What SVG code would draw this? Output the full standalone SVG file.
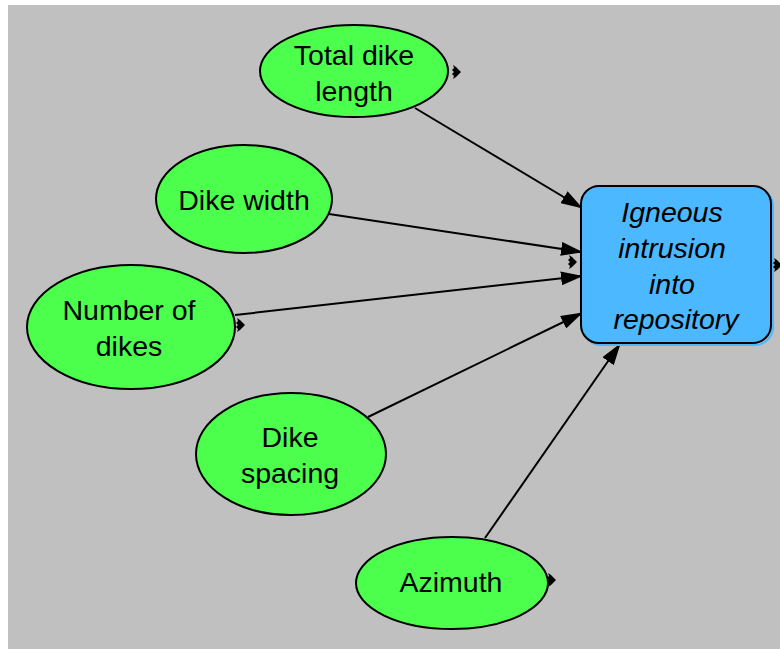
<svg xmlns="http://www.w3.org/2000/svg" width="780" height="649" viewBox="0 0 780 649">
  <style>
    .var ellipse { fill: #4cff4c; stroke: #000; stroke-width: 2; }
    .lbl { font-family: "Liberation Sans", Arial, sans-serif; font-size: 28.5px; fill: #000; text-anchor: middle; }
    .lbl-it { font-style: italic; }
    .edge { stroke: #000; stroke-width: 2; fill: none; marker-end: url(#arrow); }
    .tick { fill: #000; }
  </style>
  <defs>
    <marker id="arrow" viewBox="0 0 22 14" refX="21" refY="7" markerWidth="22" markerHeight="14" markerUnits="userSpaceOnUse" orient="auto">
      <path d="M0,0 L22,7 L0,14 Z" fill="#000"/>
    </marker>
    <!-- small influence glyph: right-pointing wedge with ragged back -->
    <path id="glyph" d="M1,-7 L4,-5 L9,0 L4,5 L1,7 L2,4 L0,2 L2,0 L0,-2 L2,-4 Z"/>
  </defs>

  <!-- canvas -->
  <rect x="0" y="0" width="780" height="649" fill="#ffffff"/>
  <rect x="8" y="5" width="772" height="644" fill="#c0c0c0"/>

  <!-- connectors -->
  <g id="connectors">
    <line class="edge" x1="415" y1="108" x2="582" y2="208"/>
    <line class="edge" x1="329" y1="214" x2="582" y2="252"/>
    <line class="edge" x1="235" y1="315" x2="582" y2="276"/>
    <line class="edge" x1="368" y1="417" x2="582" y2="313"/>
    <line class="edge" x1="485" y1="538" x2="620" y2="344"/>
  </g>

  <!-- input variables -->
  <g id="total-dike-length" class="var">
    <ellipse cx="354" cy="71" rx="94" ry="46"/>
    <text class="lbl" x="354" y="65">Total dike</text>
    <text class="lbl" x="354" y="101">length</text>
    <use href="#glyph" class="tick" x="452" y="72"/>
  </g>

  <g id="dike-width" class="var">
    <ellipse cx="244" cy="199" rx="88" ry="54"/>
    <text class="lbl" x="244" y="210">Dike width</text>
  </g>

  <g id="number-of-dikes" class="var">
    <ellipse cx="131" cy="327" rx="104" ry="62"/>
    <text class="lbl" x="129" y="320">Number of</text>
    <text class="lbl" x="129" y="356">dikes</text>
    <use href="#glyph" class="tick" x="236" y="325"/>
  </g>

  <g id="dike-spacing" class="var">
    <ellipse cx="291" cy="454" rx="95" ry="61"/>
    <text class="lbl" x="290" y="447">Dike</text>
    <text class="lbl" x="290" y="483">spacing</text>
  </g>

  <g id="azimuth" class="var">
    <ellipse cx="452" cy="583" rx="96" ry="46"/>
    <text class="lbl" x="451" y="592">Azimuth</text>
    <use href="#glyph" class="tick" x="547" y="580"/>
  </g>

  <!-- result -->
  <g id="igneous-intrusion">
    <rect x="583" y="188" width="190" height="157" rx="18" ry="18" fill="none" stroke="#4cb8ff" stroke-width="2"/>
    <rect x="581" y="186" width="190" height="157" rx="18" ry="18" fill="#4cb8ff" stroke="#000" stroke-width="2"/>
    <text class="lbl lbl-it" x="672" y="222">Igneous</text>
    <text class="lbl lbl-it" x="672" y="258">intrusion</text>
    <text class="lbl lbl-it" x="672" y="294">into</text>
    <text class="lbl lbl-it" x="676" y="329">repository</text>
    <use href="#glyph" class="tick" x="568" y="262"/>
    <use href="#glyph" class="tick" x="773" y="265"/>
  </g>
</svg>
